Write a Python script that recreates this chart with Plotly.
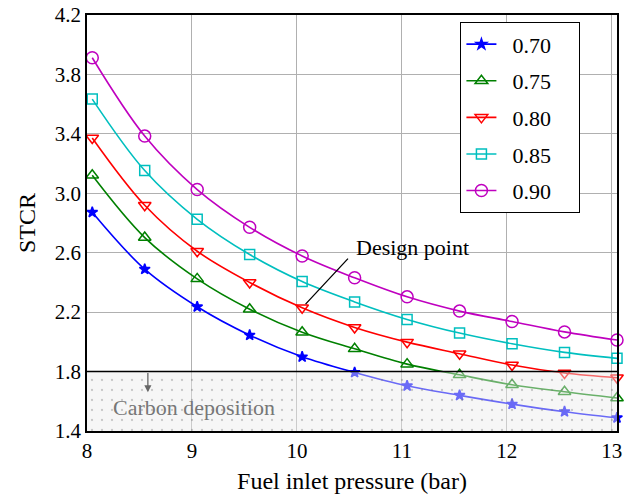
import plotly.graph_objects as go

pressure = [8.05, 8.55, 9.05, 9.55, 10.05, 10.55, 11.05, 11.55, 12.05, 12.55, 13.05]
stcr_070 = [2.872, 2.489, 2.236, 2.045, 1.899, 1.794, 1.704, 1.640, 1.581, 1.530, 1.489]
stcr_075 = [3.121, 2.702, 2.424, 2.220, 2.065, 1.953, 1.850, 1.778, 1.711, 1.664, 1.622]
stcr_080 = [3.372, 2.919, 2.610, 2.400, 2.229, 2.097, 1.998, 1.920, 1.844, 1.790, 1.758]
stcr_085 = [3.634, 3.153, 2.825, 2.588, 2.406, 2.269, 2.151, 2.059, 1.987, 1.929, 1.889]
stcr_090 = [3.912, 3.385, 3.025, 2.771, 2.578, 2.431, 2.303, 2.207, 2.137, 2.067, 2.012]
labels = ["0.70", "0.75", "0.80", "0.85", "0.90"]
series = [stcr_070, stcr_075, stcr_080, stcr_085, stcr_090]
colors = ["#0000ff", "#008000", "#ff0000", "#00bfbf", "#bf00bf"]
symbols = ["star", "triangle-up-open", "triangle-down-open", "square-open", "circle-open"]
sizes = [8, 11, 11, 10, 12]

x_ticks = [8, 9, 10, 11, 12, 13]
y_ticks = [1.4, 1.8, 2.2, 2.6, 3.0, 3.4, 3.8, 4.2]
x_range = [8, 13.05]
y_range = [1.4, 4.2]
carbon_limit = 1.8
design_x, design_y = 10.05, 2.229

FONT = "Liberation Serif, Times New Roman, serif"
NB = "\u00a0"

fig = go.Figure()
for i, (lab, ys) in enumerate(zip(labels, series)):
    fig.add_trace(go.Scatter(
        x=pressure, y=ys, name=NB * 2 + lab + NB * 4, mode="lines+markers",
        line=dict(color=colors[i], width=1.6, shape="spline"),
        marker=dict(symbol=symbols[i], size=sizes[i], color=colors[i],
                    line=dict(color=colors[i], width=1.5)),
        legendgroup=lab, cliponaxis=False,
    ))

# carbon deposition region (semi-transparent, dotted)
fig.add_trace(go.Scatter(
    x=[x_range[0], x_range[1], x_range[1], x_range[0], x_range[0]],
    y=[y_range[0], y_range[0], carbon_limit, carbon_limit, y_range[0]],
    mode="lines", line=dict(width=0), fill="toself",
    fillcolor="rgba(236,236,236,0.45)",
    fillpattern=dict(shape=".", fgcolor="rgba(110,110,110,0.7)",
                     bgcolor="rgba(236,236,236,0.45)", size=10, solidity=0.04),
    showlegend=False, hoverinfo="skip",
))

fig.add_shape(type="line", xref="x", yref="y", x0=x_range[0], x1=x_range[1],
              y0=carbon_limit, y1=carbon_limit, line=dict(color="black", width=1.6))

fig.add_annotation(x=8.58, y=1.66, ax=8.58, ay=carbon_limit, xref="x", yref="y",
                   axref="x", ayref="y", showarrow=True, arrowhead=2, arrowsize=1.1,
                   arrowwidth=1.3, arrowcolor="#666", text="")
fig.add_annotation(x=8.23, y=1.555, xref="x", yref="y", text="Carbon deposition",
                   showarrow=False, xanchor="left",
                   font=dict(family=FONT, size=22, color="#777"))

fig.add_annotation(x=design_x, y=design_y, ax=10.5, ay=2.57, xref="x", yref="y",
                   axref="x", ayref="y", showarrow=True, arrowhead=0, arrowwidth=1.3,
                   arrowcolor="black", text="", standoff=5)
fig.add_annotation(x=10.54, y=2.635, xref="x", yref="y", text="Design point",
                   showarrow=False, xanchor="left",
                   font=dict(family=FONT, size=22, color="black"))

axis_common = dict(showline=True, linecolor="black", linewidth=1.6, mirror=True,
                   showgrid=True, gridcolor="#b0b0b0", gridwidth=1,
                   ticks="", zeroline=False, automargin=False,
                   tickfont=dict(family=FONT, size=21, color="black"))

fig.update_xaxes(range=x_range, tickvals=x_ticks,
                 title=dict(text="Fuel inlet pressure (bar)",
                            font=dict(family=FONT, size=24, color="black"), standoff=10),
                 **axis_common)
fig.update_yaxes(range=y_range, tickvals=y_ticks, tickformat=".1f",
                 title=dict(text="STCR", font=dict(family=FONT, size=24, color="black"),
                            standoff=12),
                 **axis_common)

fig.update_layout(
    width=638, height=495,
    margin=dict(l=87, r=21, t=15, b=64, autoexpand=False),
    plot_bgcolor="white", paper_bgcolor="white",
    font=dict(family=FONT, color="black"),
    legend=dict(x=0.704, y=0.983, xanchor="left", yanchor="top",
                bgcolor="white", bordercolor="black", borderwidth=1.3,
                font=dict(family=FONT, size=22, color="black"),
                tracegroupgap=5, traceorder="grouped"),
)

fig.write_html("out.html")
